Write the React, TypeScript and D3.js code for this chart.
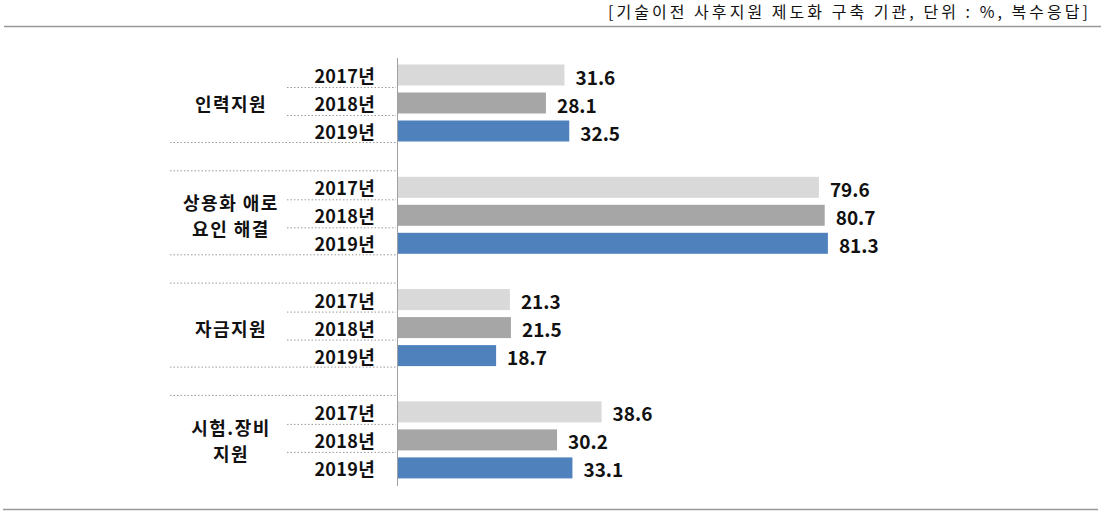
import React from "react";
import * as d3 from "d3";

const categories = ["인력지원", "상용화 애로\n요인 해결", "자금지원", "시험.장비\n지원"];
const years = ["2017년", "2018년", "2019년"];
const values2017 = [31.6, 79.6, 21.3, 38.6];
const values2018 = [28.1, 80.7, 21.5, 30.2];
const values2019 = [32.5, 81.3, 18.7, 33.1];
const seriesValues = [values2017, values2018, values2019];
const colors = ["#d9d9d9", "#a6a6a6", "#4f81bd"];
const headerText = "[기술이전 사후지원 제도화 구축 기관, 단위 : %, 복수응답]";

const W = 1101;
const H = 521;
const FONT = "'Noto Sans CJK KR', 'Noto Sans', sans-serif";

export default function App() {
  const x = d3.scaleLinear().domain([0, 100]).range([397, 927]);
  const yGroup = d3.scaleBand<string>().domain(categories).range([61, 61 + 112.3 * 4]).padding(0);
  const inner = d3
    .scaleBand<string>()
    .domain(years)
    .range([0, 84])
    .paddingInner(0.25)
    .paddingOuter(0.125);
  const bh = inner.bandwidth();

  const lines: JSX.Element[] = [];
  categories.forEach((c, gi) => {
    const g0 = yGroup(c)!;
    [0, 1].forEach((k) => {
      const yy = g0 + inner(years[k])! + bh + 2;
      lines.push(
        <line key={`s${gi}${k}`} x1={287} x2={396} y1={yy} y2={yy} stroke="#9a9a9a" strokeWidth={1} strokeDasharray="1.5,2" />
      );
    });
    if (gi > 0) {
      const yy = g0 + inner(years[0])! - 6;
      lines.push(
        <line key={`t${gi}`} x1={170} x2={396} y1={yy} y2={yy} stroke="#9a9a9a" strokeWidth={1} strokeDasharray="1.5,2" />
      );
    }
    if (gi < categories.length - 1) {
      const yy = g0 + inner(years[2])! + bh + 1;
      lines.push(
        <line key={`b${gi}`} x1={170} x2={396} y1={yy} y2={yy} stroke="#9a9a9a" strokeWidth={1} strokeDasharray="1.5,2" />
      );
    }
  });

  return (
    <svg width={W} height={H} style={{ position: "absolute", left: 0, top: 0, background: "#fff" }} fontFamily={FONT}>
      <rect x={0} y={0} width={W} height={H} fill="#fff" />
      <text x={608} y={18} fontSize={16} fill="#111" textLength={480} lengthAdjust="spacing">
        {headerText}
      </text>
      <line x1={4} x2={1101} y1={26.5} y2={26.5} stroke="#999" strokeWidth={1.5} />
      <line x1={3} x2={1098} y1={509.5} y2={509.5} stroke="#999" strokeWidth={1.5} />

      {lines}

      {categories.map((c, gi) => {
        const g0 = yGroup(c)!;
        const parts = c.split("\n");
        const cy = g0 + 42;
        return (
          <g key={c}>
            {parts.map((p, pi) => (
              <text
                key={pi}
                x={231}
                y={cy + (pi - (parts.length - 1) / 2) * 26}
                textAnchor="middle"
                dominantBaseline="central"
                fontSize={18}
                fontWeight="bold"
                letterSpacing={1.5}
                fill="#111"
              >
                {p}
              </text>
            ))}
            {years.map((yr, si) => {
              const v = seriesValues[si][gi];
              const by = g0 + inner(yr)!;
              return (
                <g key={yr}>
                  <text x={375} y={by + bh / 2} textAnchor="end" dominantBaseline="central" fontSize={18} fontWeight="bold" fill="#111" letterSpacing={0.3}>
                    {yr}
                  </text>
                  <rect x={x(0)} y={by} width={x(v) - x(0)} height={bh} fill={colors[si]} />
                  <text x={x(v) + 11} y={by + bh / 2 + 1} dominantBaseline="central" fontSize={19} fontWeight="bold" fill="#111">
                    {v.toFixed(1)}
                  </text>
                </g>
              );
            })}
          </g>
        );
      })}

      <line x1={397.5} x2={397.5} y1={58} y2={486} stroke="#a0a0a0" strokeWidth={1} />
    </svg>
  );
}
